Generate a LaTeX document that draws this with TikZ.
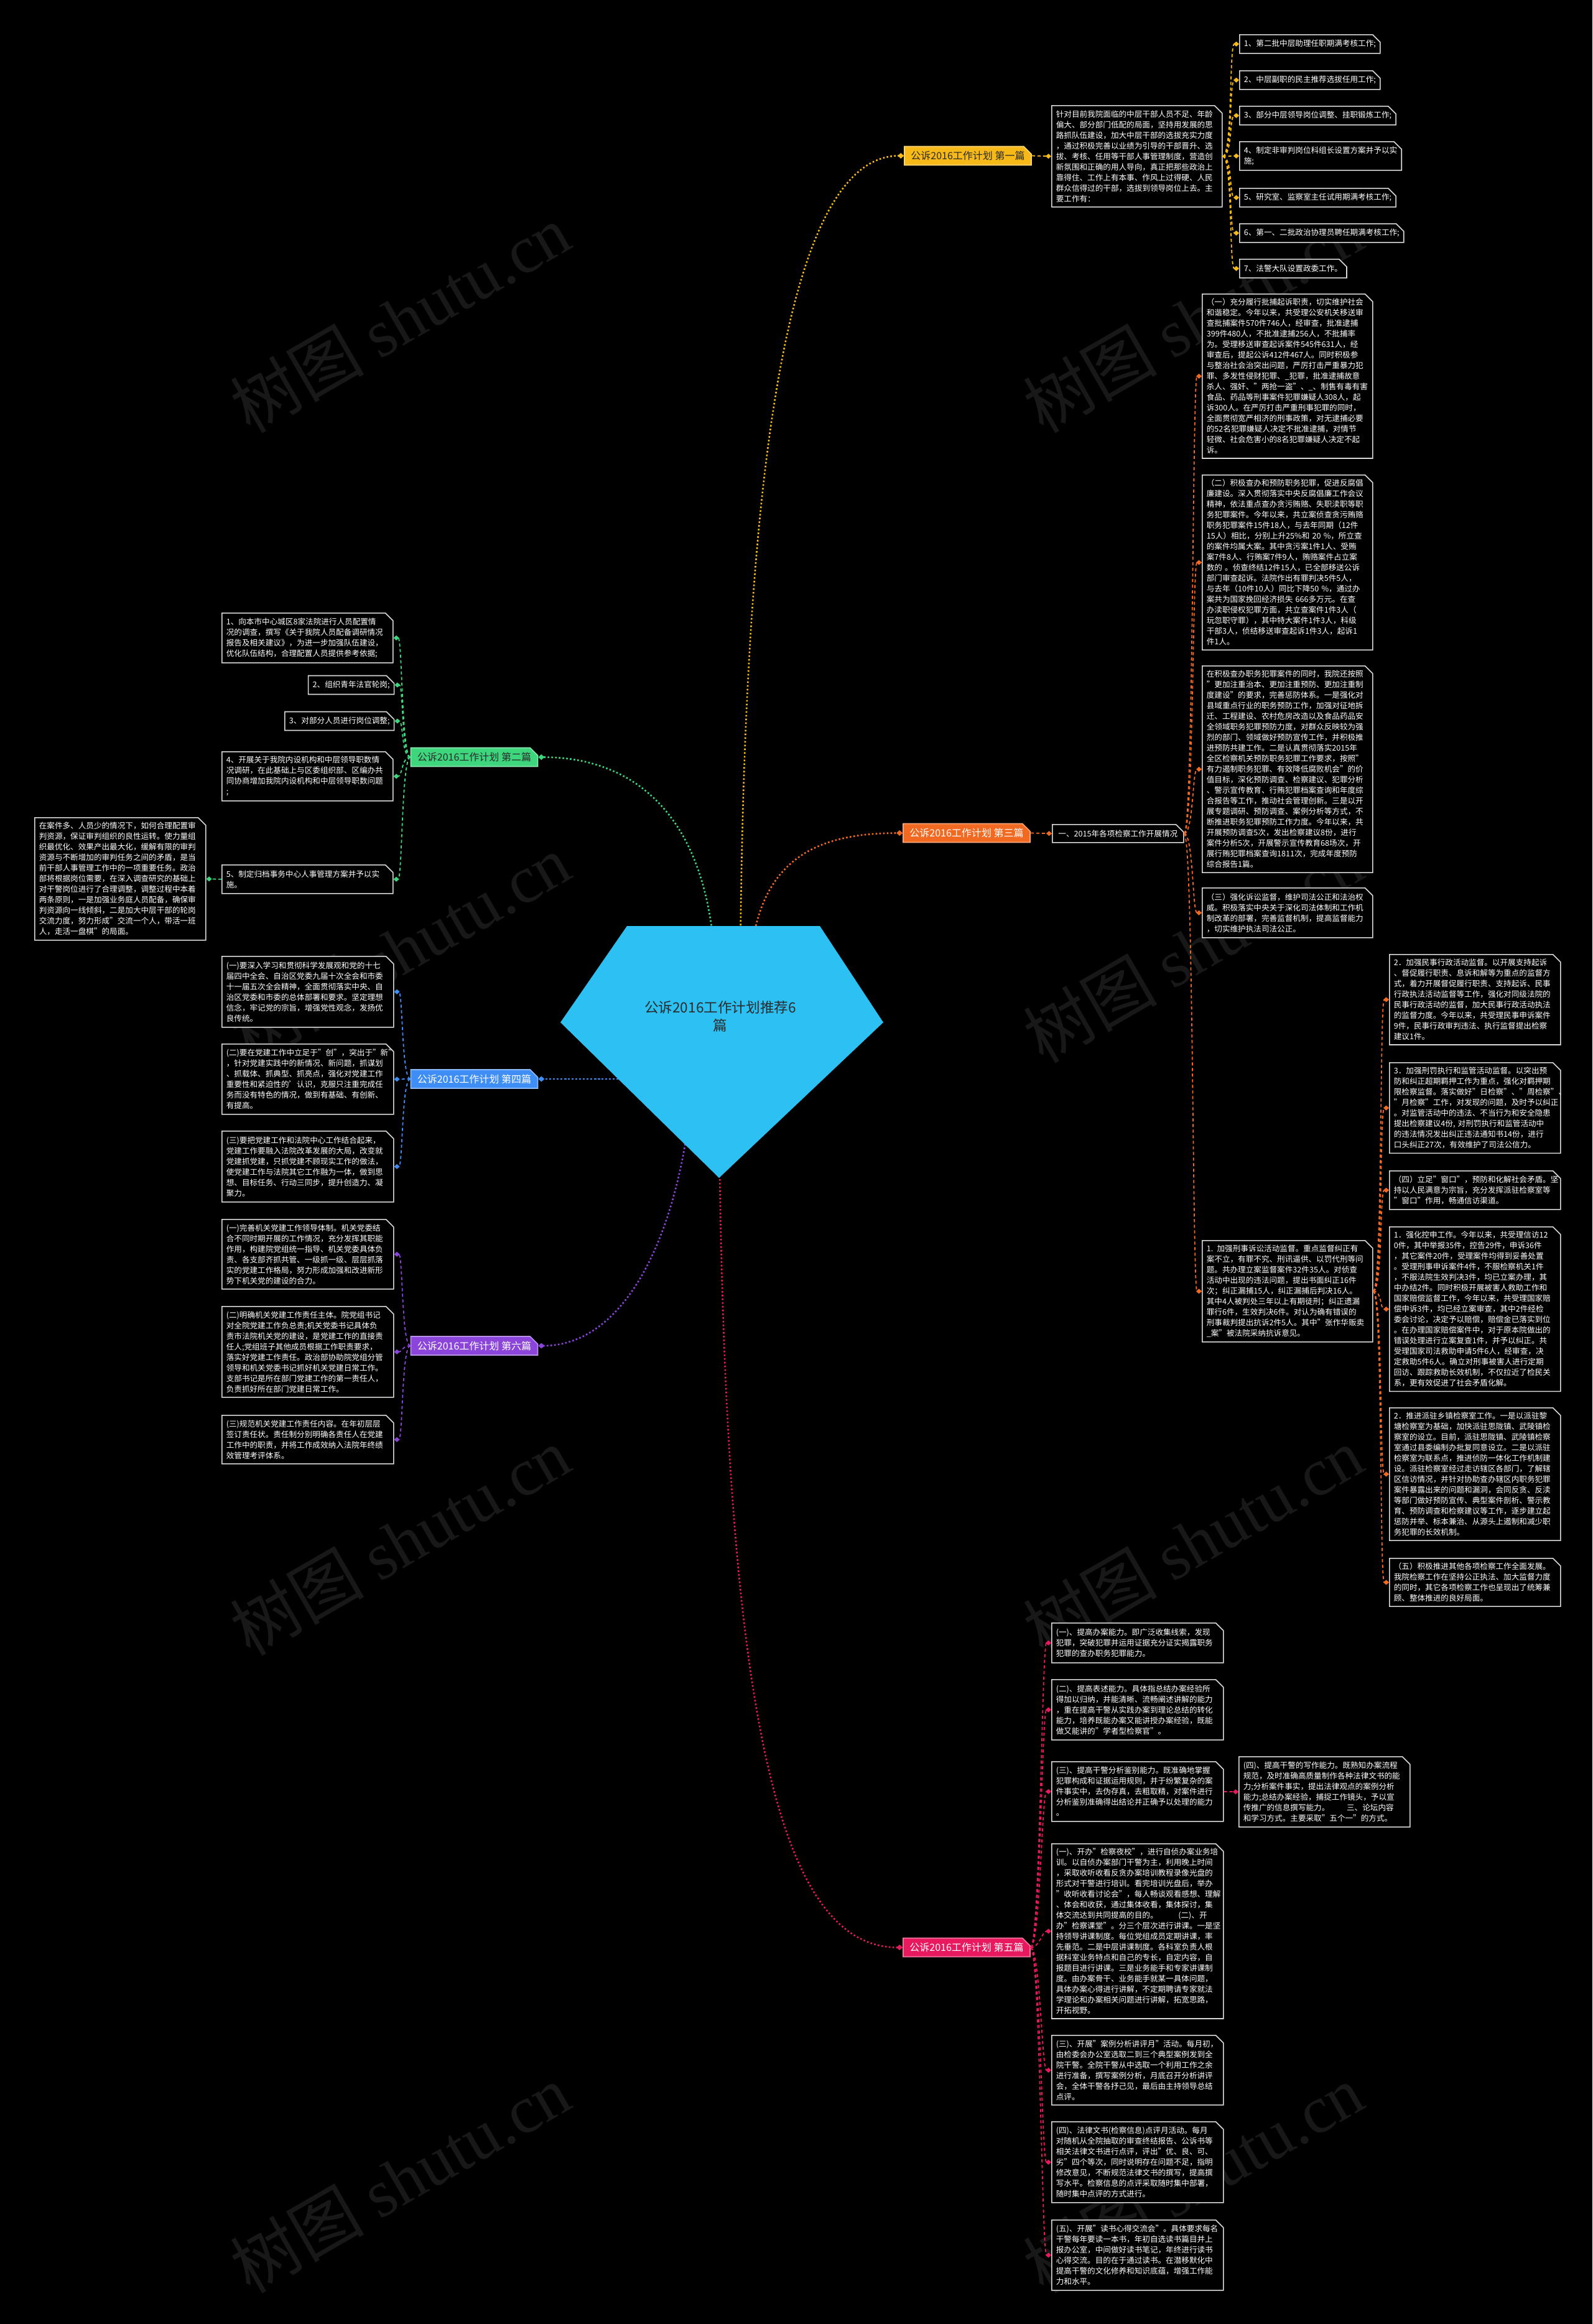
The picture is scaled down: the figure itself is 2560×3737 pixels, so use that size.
\documentclass[tikz,border=0pt]{standalone}
\usepackage{fontspec}
\setmainfont{Noto Sans CJK SC}
\newfontfamily\wmlatin{Liberation Serif}
\usetikzlibrary{shapes.misc,arrows.meta}
\definecolor{cyel}{HTML}{F7B918}
\definecolor{cgrn}{HTML}{3DD67C}
\definecolor{cora}{HTML}{F26A22}
\definecolor{cblu}{HTML}{3F8EF5}
\definecolor{cpnk}{HTML}{E9195F}
\definecolor{cpur}{HTML}{8B45DA}
\definecolor{ccen}{HTML}{2CC0F3}
\definecolor{boxline}{HTML}{D9D9D9}
\definecolor{wmark}{HTML}{181818}
\definecolor{darktxt}{HTML}{2B2B2B}
\newcommand\bxf{\fontsize{6.3pt}{8.5pt}\selectfont}
\newcommand\brf{\fontsize{8pt}{10pt}\selectfont}
\newcommand\wmtext{树图 {\wmlatin shutu.cn}}
\begin{document}
\begin{tikzpicture}[x=0.5pt,y=-0.5pt,
  box/.style={chamfered rectangle, chamfered rectangle corners=north east,
    chamfered rectangle xsep=2.5pt, draw=boxline, line width=0.8pt, fill=black,
    text=white, font=\bxf, align=left, inner xsep=1pt, inner ysep=0pt, anchor=north west},
  branch/.style={chamfered rectangle, chamfered rectangle corners=north east,
    chamfered rectangle xsep=2.5pt, fill=#1, draw=#1!60!white, line width=0.8pt,
    font=\brf, minimum width=102pt, minimum height=15pt, inner xsep=2pt, inner ysep=0pt, text=white},
  mainc/.style={draw=#1, line width=1.3pt, dash pattern=on 1.3pt off 1.7pt, -{Diamond[length=5pt,width=4.5pt]}},
  subc/.style={draw=#1, line width=0.9pt, dash pattern=on 2.5pt off 2pt, -{Diamond[length=4.5pt,width=4pt]}},
  wm/.style={text=wmark, font=\fontsize{54pt}{60pt}\selectfont, rotate=30}
]
% background
\fill[black] (0,0) rectangle (2560,3737);
\useasboundingbox (0,0) rectangle (2560,3737);
% watermarks
\node[wm] (w1) at (643,512) {\wmtext};
\node[wm] (w2) at (1918,512) {\wmtext};
\node[wm] (w3) at (643,1525) {\wmtext};
\node[wm] (w4) at (1918,1525) {\wmtext};
\node[wm] (w5) at (643,2478) {\wmtext};
\node[wm] (w6) at (1918,2478) {\wmtext};
\node[wm] (w7) at (643,3503) {\wmtext};
\node[wm] (w8) at (1918,3503) {\wmtext};

% branch nodes
\node[branch=cyel, text=darktxt] (b1) at (1556,250.5) {公诉2016工作计划 第一篇};
\node[branch=cgrn, text=darktxt] (b2) at (762.5,1217.5) {公诉2016工作计划 第二篇};
\node[branch=cora] (b3) at (1554,1339.5) {公诉2016工作计划 第三篇};
\node[branch=cblu] (b4) at (762.5,1735) {公诉2016工作计划 第四篇};
\node[branch=cpnk] (b5) at (1554,3131.5) {公诉2016工作计划 第五篇};
\node[branch=cpur] (b6) at (762.5,2164) {公诉2016工作计划 第六篇};

% main connectors (start hidden under the centre shape)
\coordinate (s1) at (1190,1560);
\coordinate (s2) at (1150,1560);
\coordinate (s3) at (1205,1560);
\coordinate (s4) at (1060,1735);
\coordinate (s5) at (1156,1800);
\coordinate (s6) at (1110,1780);
\draw[mainc=cyel] (s1) .. controls (1195,850) and (1250,250.5) .. (b1.west);
\draw[mainc=cgrn] (s2) .. controls (1140,1300) and (1010,1217.5) .. (b2.east);
\draw[mainc=cora] (s3) .. controls (1215,1390) and (1300,1339.5) .. (b3.west);
\draw[mainc=cblu] (s4) .. controls (980,1735) and (930,1735) .. (b4.east);
\draw[mainc=cpnk] (s5) .. controls (1165,2750) and (1250,3131.5) .. (b5.west);
\draw[mainc=cpur] (s6) .. controls (1085,2000) and (1000,2164) .. (b6.east);

% centre
\coordinate (p1) at (1008,1489);
\coordinate (p2) at (1318,1489);
\coordinate (p3) at (1420,1644);
\coordinate (p4) at (1156,1894);
\coordinate (p5) at (901,1644);
\fill[ccen] (p1) -- (p2) -- (p3) -- (p4) -- (p5) -- cycle;
\node[text=darktxt, font=\fontsize{11.3pt}{14.5pt}\selectfont, align=center] (c) at (1158,1634) {公诉2016工作计划推荐6\\篇};

% ===== branch 1 =====
\node[box, minimum width=135.5pt, minimum height=81.5pt, text width=130pt] (b1d) at (1690,169) {针对目前我院面临的中层干部人员不足、年龄\\偏大、部分部门低配的局面，坚持用发展的思\\路抓队伍建设，加大中层干部的选拔充实力度\\，通过积极完善以业绩为引导的干部晋升、选\\拔、考核、任用等干部人事管理制度，营造创\\新氛围和正确的用人导向，真正把那些政治上\\靠得住、工作上有本事、作风上过得硬、人民\\群众信得过的干部，选拔到领导岗位上去。主\\要工作有：};
\node[box, minimum height=15pt] (b1i1) at (1992,55) {1、第二批中层助理任职期满考核工作;};
\node[box, minimum height=15pt] (b1i2) at (1992,113) {2、中层副职的民主推荐选拔任用工作;};
\node[box, minimum height=15pt] (b1i3) at (1992,170) {3、部分中层领导岗位调整、挂职锻炼工作;};
\node[box, minimum height=23pt] (b1i4) at (1992,227) {4、制定非审判岗位科组长设置方案并予以实\\施;};
\node[box, minimum height=15pt] (b1i5) at (1992,302) {5、研究室、监察室主任试用期满考核工作;};
\node[box, minimum height=15pt] (b1i6) at (1992,359) {6、第一、二批政治协理员聘任期满考核工作;};
\node[box, minimum height=15pt] (b1i7) at (1992,416) {7、法警大队设置政委工作。};
\draw[subc=cyel] (b1.east) -- (b1d.west);
\foreach \n in {b1i1,b1i2,b1i3,b1i4,b1i5,b1i6,b1i7}
  \draw[subc=cyel] (b1d.east) .. controls +(16,0) and +(-16,0) .. (\n.west);

% ===== branch 2 =====
\node[box, minimum width=136pt, minimum height=40pt, text width=130.5pt] (b2i1) at (356,985) {1、向本市中心城区8家法院进行人员配置情\\况的调查，撰写《关于我院人员配备调研情况\\报告及相关建议》，为进一步加强队伍建设，\\优化队伍结构，合理配置人员提供参考依据;};
\node[box, anchor=north east, minimum height=15pt] (b2i2) at (628,1092) {2、组织青年法官轮岗;};
\node[box, anchor=north east, minimum height=15pt] (b2i3) at (628,1150) {3、对部分人员进行岗位调整;};
\node[box, minimum width=136pt, minimum height=39.5pt, text width=130.5pt] (b2i4) at (356,1208) {4、开展关于我院内设机构和中层领导职数情\\况调研，在此基础上与区委组织部、区编办共\\同协商增加我院内设机构和中层领导职数问题\\;};
\node[box, minimum width=136pt, minimum height=23pt, text width=130.5pt] (b2i5) at (356,1390) {5、制定归档事务中心人事管理方案并予以实\\施。};
\node[box, minimum width=136pt, minimum height=98.5pt, text width=130.5pt] (b2c) at (55,1314) {在案件多、人员少的情况下，如何合理配置审\\判资源，保证审判组织的良性运转。使力量组\\织最优化、效果产出最大化，缓解有限的审判\\资源与不断增加的审判任务之间的矛盾，是当\\前干部人事管理工作中的一项重要任务。政治\\部将根据岗位需要，在深入调查研究的基础上\\对干警岗位进行了合理调整，调整过程中本着\\两条原则，一是加强业务庭人员配备，确保审\\判资源向一线倾斜，二是加大中层干部的轮岗\\交流力度，努力形成"交流一个人，带活一班\\人，走活一盘棋"的局面。};
\foreach \n in {b2i1,b2i2,b2i3,b2i4,b2i5}
  \draw[subc=cgrn] (b2.west) .. controls +(-14,0) and +(14,0) .. (\n.east);
\draw[subc=cgrn] (b2i5.west) -- (b2c.east);

% ===== branch 3 =====
\node[box, minimum width=105.5pt, minimum height=14.5pt] (b3h) at (1691,1325) {一、2015年各项检察工作开展情况};
\draw[subc=cora] (b3.east) -- (b3h.west);
\node[box, minimum width=135.5pt, minimum height=131.5pt, text width=130pt] (b3a) at (1932,472) {（一）充分履行批捕起诉职责，切实维护社会\\和谐稳定。今年以来，共受理公安机关移送审\\查批捕案件570件746人，经审查，批准逮捕\\399件480人，不批准逮捕256人，不批捕率\\为。受理移送审查起诉案件545件631人，经\\审查后，提起公诉412件467人。同时积极参\\与整治社会治突出问题，严厉打击严重暴力犯\\罪、多发性侵财犯罪、\_犯罪，批准逮捕故意\\杀人、强奸、"两抢一盗"、\_、制售有毒有害\\食品、药品等刑事案件犯罪嫌疑人308人，起\\诉300人。在严厉打击严重刑事犯罪的同时，\\全面贯彻宽严相济的刑事政策，对无逮捕必要\\的52名犯罪嫌疑人决定不批准逮捕，对情节\\轻微、社会危害小的8名犯罪嫌疑人决定不起\\诉。};
\node[box, minimum width=135.5pt, minimum height=139.5pt, text width=130pt] (b3b) at (1932,763) {（二）积极查办和预防职务犯罪，促进反腐倡\\廉建设。深入贯彻落实中央反腐倡廉工作会议\\精神，依法重点查办贪污贿赂、失职渎职等职\\务犯罪案件。今年以来，共立案侦查贪污贿赂\\职务犯罪案件15件18人，与去年同期（12件\\15人）相比，分别上升25\%和 20 \%，所立查\\的案件均属大案。其中贪污案1件1人、受贿\\案7件8人、行贿案7件9人，贿赂案件占立案\\数的 。侦查终结12件15人，已全部移送公诉\\部门审查起诉。法院作出有罪判决5件5人，\\与去年（10件10人）同比下降50 \%，通过办\\案共为国家挽回经济损失 666多万元。在查\\办渎职侵权犯罪方面，共立查案件1件3人（\\玩忽职守罪），其中特大案件1件3人，科级\\干部3人，侦结移送审查起诉1件3人，起诉1\\件1人。};
\node[box, minimum width=135.5pt, minimum height=164.5pt, text width=130pt] (b3c) at (1932,1070) {在积极查办职务犯罪案件的同时，我院还按照\\"更加注重治本、更加注重预防、更加注重制\\度建设"的要求，完善惩防体系。一是强化对\\县域重点行业的职务预防工作，加强对征地拆\\迁、工程建设、农村危房改造以及食品药品安\\全领域职务犯罪预防力度，对群众反映较为强\\烈的部门、领域做好预防宣传工作，并积极推\\进预防共建工作。二是认真贯彻落实2015年\\全区检察机关预防职务犯罪工作要求，按照"\\有力遏制职务犯罪、有效降低腐败机会"的价\\值目标，深化预防调查、检察建议、犯罪分析\\、警示宣传教育、行贿犯罪档案查询和年度综\\合报告等工作，推动社会管理创新。三是以开\\展专题调研、预防调查、案例分析等方式，不\\断推进职务犯罪预防工作力度。今年以来，共\\开展预防调查5次，发出检察建议8份，进行\\案件分析5次，开展警示宣传教育68场次，开\\展行贿犯罪档案查询1811次，完成年度预防\\综合报告1篇。};
\node[box, minimum width=135.5pt, minimum height=40pt, text width=130pt] (b3d) at (1932,1427) {（三）强化诉讼监督，维护司法公正和法治权\\威。积极落实中央关于深化司法体制和工作机\\制改革的部署，完善监督机制，提高监督能力\\，切实维护执法司法公正。};
\node[box, minimum width=135.5pt, minimum height=81.5pt, text width=130pt] (b3e) at (1932,1994) {1. 加强刑事诉讼活动监督。重点监督纠正有\\案不立，有罪不究、刑讯逼供、以罚代刑等问\\题。共办理立案监督案件32件35人。对侦查\\活动中出现的违法问题，提出书面纠正16件\\次；纠正漏捕15人，纠正漏捕后判决16人。\\其中4人被判处三年以上有期徒刑；纠正遗漏\\罪行6件，生效判决6件。对认为确有错误的\\刑事裁判提出抗诉2件5人。其中"张作华贩卖\\\_案"被法院采纳抗诉意见。};
\foreach \n in {b3a,b3b,b3c,b3d,b3e}
  \draw[subc=cora] (b3h.east) .. controls +(15,0) and +(-15,0) .. (\n.west);
\node[box, minimum width=136pt, minimum height=72.5pt, text width=130.5pt] (b3f) at (2233,1534) {2．加强民事行政活动监督。以开展支持起诉\\、督促履行职责、息诉和解等为重点的监督方\\式，着力开展督促履行职责、支持起诉、民事\\行政执法活动监督等工作，强化对同级法院的\\民事行政活动的监督，加大民事行政活动执法\\的监督力度。今年以来，共受理民事申诉案件\\9件，民事行政审判违法、执行监督提出检察\\建议1件。};
\node[box, minimum width=136pt, minimum height=72.5pt, text width=130.5pt] (b3g) at (2233,1708) {3．加强刑罚执行和监管活动监督。以突出预\\防和纠正超期羁押工作为重点，强化对羁押期\\限检察监督。落实做好"日检察"、"周检察"、\\"月检察"工作，对发现的问题，及时予以纠正\\。对监管活动中的违法、不当行为和安全隐患\\提出检察建议4份, 对刑罚执行和监管活动中\\的违法情况发出纠正违法通知书14份，进行\\口头纠正27次，有效维护了司法公信力。};
\node[box, minimum width=136pt, minimum height=31pt, text width=130.5pt] (b3k) at (2233,1882) {（四）立足"窗口"，预防和化解社会矛盾。坚\\持以人民满意为宗旨，充分发挥派驻检察室等\\"窗口"作用，畅通信访渠道。};
\node[box, minimum width=136pt, minimum height=131.5pt, text width=130.5pt] (b3l) at (2233,1972) {1．强化控申工作。今年以来，共受理信访12\\0件，其中举报35件，控告29件，申诉36件\\，其它案件20件，受理案件均得到妥善处置\\。受理刑事申诉案件4件，不服检察机关1件\\，不服法院生效判决3件，均已立案办理，其\\中办结2件。同时积极开展被害人救助工作和\\国家赔偿监督工作，今年以来，共受理国家赔\\偿申诉3件，均已经立案审查，其中2件经检\\委会讨论，决定予以赔偿，赔偿金已落实到位\\。在办理国家赔偿案件中，对于原本院做出的\\错误处理进行立案复查1件，并予以纠正。共\\受理国家司法救助申请5件6人，经审查，决\\定救助5件6人。确立对刑事被害人进行定期\\回访、跟踪救助长效机制，不仅拉近了检民关\\系，更有效促进了社会矛盾化解。};
\node[box, minimum width=136pt, minimum height=105.5pt, text width=130.5pt] (b3m) at (2233,2263) {2．推进派驻乡镇检察室工作。一是以派驻黎\\塘检察室为基础，加快派驻思陇镇、武陵镇检\\察室的设立。目前，派驻思陇镇、武陵镇检察\\室通过县委编制办批复同意设立。二是以派驻\\检察室为联系点，推进侦防一体化工作机制建\\设。派驻检察室经过走访辖区各部门，了解辖\\区信访情况，并针对协助查办辖区内职务犯罪\\案件暴露出来的问题和漏洞，会同反贪、反渎\\等部门做好预防宣传、典型案件剖析、警示教\\育、预防调查和检察建议等工作，逐步建立起\\惩防并举、标本兼治、从源头上遏制和减少职\\务犯罪的长效机制。};
\node[box, minimum width=136pt, minimum height=38pt, text width=130.5pt] (b3n) at (2233,2505) {（五）积极推进其他各项检察工作全面发展。\\我院检察工作在坚持公正执法、加大监督力度\\的同时，其它各项检察工作也呈现出了统筹兼\\顾、整体推进的良好局面。};
\foreach \n in {b3f,b3g,b3k,b3l,b3m,b3n}
  \draw[subc=cora] (b3e.east) .. controls +(15,0) and +(-15,0) .. (\n.west);

% ===== branch 4 =====
\node[box, minimum width=136.5pt, minimum height=57pt, text width=131pt] (b4a) at (356,1537) {(一)要深入学习和贯彻科学发展观和党的十七\\届四中全会、自治区党委九届十次全会和市委\\十一届五次全会精神，全面贯彻落实中央、自\\治区党委和市委的总体部署和要求。坚定理想\\信念，牢记党的宗旨，增强党性观念，发扬优\\良传统。};
\node[box, minimum width=136.5pt, minimum height=56.5pt, text width=131pt] (b4b) at (356,1678) {(二)要在党建工作中立足于"创"，突出于"新"\\，针对党建实践中的新情况、新问题，抓谋划\\、抓载体、抓典型、抓亮点，强化对党建工作\\重要性和紧迫性的'认识，克服只注重完成任\\务而没有特色的情况，做到有基础、有创新、\\有提高。};
\node[box, minimum width=136.5pt, minimum height=57pt, text width=131pt] (b4c) at (356,1818) {(三)要把党建工作和法院中心工作结合起来，\\党建工作要融入法院改革发展的大局，改变就\\党建抓党建，只抓党建不顾现实工作的做法，\\使党建工作与法院其它工作融为一体，做到思\\想、目标任务、行动三同步，提升创造力、凝\\聚力。};
\foreach \n in {b4a,b4b,b4c}
  \draw[subc=cblu] (b4.west) .. controls +(-14,0) and +(14,0) .. (\n.east);

% ===== branch 6 =====
\node[box, minimum width=136.5pt, minimum height=56pt, text width=131pt] (b6a) at (356,1960) {(一)完善机关党建工作领导体制。机关党委结\\合不同时期开展的工作情况，充分发挥其职能\\作用，构建院党组统一指导、机关党委具体负\\责、各支部齐抓共管、一级抓一级、层层抓落\\实的党建工作格局，努力形成加强和改进新形\\势下机关党的建设的合力。};
\node[box, minimum width=136.5pt, minimum height=73pt, text width=131pt] (b6b) at (356,2100) {(二)明确机关党建工作责任主体。院党组书记\\对全院党建工作负总责;机关党委书记具体负\\责市法院机关党的建设，是党建工作的直接责\\任人;党组班子其他成员根据工作职责要求，\\落实好党建工作责任。政治部协助院党组分管\\领导和机关党委书记抓好机关党建日常工作。\\支部书记是所在部门党建工作的第一责任人，\\负责抓好所在部门党建日常工作。};
\node[box, minimum width=136.5pt, minimum height=39pt, text width=131pt] (b6c) at (356,2275) {(三)规范机关党建工作责任内容。在年初层层\\签订责任状。责任制分别明确各责任人在党建\\工作中的职责，并将工作成效纳入法院年终绩\\效管理考评体系。};
\foreach \n in {b6a,b6b,b6c}
  \draw[subc=cpur] (b6.west) .. controls +(-14,0) and +(14,0) .. (\n.east);

% ===== branch 5 =====
\node[box, minimum width=136.5pt, minimum height=32pt, text width=131pt] (b5a) at (1690,2609) {(一)、提高办案能力。即广泛收集线索，发现\\犯罪，突破犯罪并运用证据充分证实揭露职务\\犯罪的查办职务犯罪能力。};
\node[box, minimum width=136.5pt, minimum height=48.5pt, text width=131pt] (b5b) at (1690,2700) {(二)、提高表述能力。具体指总结办案经验所\\得加以归纳，并能清晰、流畅阐述讲解的能力\\，重在提高干警从实践办案到理论总结的转化\\能力，培养既能办案又能讲授办案经验，既能\\做又能讲的"学者型检察官"。};
\node[box, minimum width=136.5pt, minimum height=48pt, text width=131pt] (b5c) at (1690,2832) {(三)、提高干警分析鉴别能力。既准确地掌握\\犯罪构成和证据运用规则，并于纷繁复杂的案\\件事实中，去伪存真，去粗取精，对案件进行\\分析鉴别准确得出结论并正确予以处理的能力\\。};
\node[box, minimum width=136pt, minimum height=56.5pt, text width=130.5pt] (b5d) at (1991,2824) {(四)、提高干警的写作能力。既熟知办案流程\\规范，及时准确高质量制作各种法律文书的能\\力;分析案件事实，提出法律观点的案例分析\\能力;总结办案经验，捕捉工作镜头，予以宣\\传推广的信息撰写能力。\hspace{2.2em}三、论坛内容\\和学习方式。主要采取"五个一"的方式。};
\node[box, minimum width=136.5pt, minimum height=140pt, text width=131pt] (b5e) at (1690,2964) {(一)、开办"检察夜校"，进行自侦办案业务培\\训。以自侦办案部门干警为主，利用晚上时间\\，采取收听收看反贪办案培训教程录像光盘的\\形式对干警进行培训。看完培训光盘后，举办\\"收听收看讨论会"，每人畅谈观看感想、理解\\、体会和收获，通过集体收看，集体探讨，集\\体交流达到共同提高的目的。\hspace{2.6em}(二)、开\\办"检察课堂"。分三个层次进行讲课。一是坚\\持领导讲课制度。每位党组成员定期讲课，率\\先垂范。二是中层讲课制度。各科室负责人根\\据科室业务特点和自己的专长，自定内容，自\\报题目进行讲课。三是业务能手和专家讲课制\\度。由办案骨干、业务能手就某一具体问题，\\具体办案心得进行讲解，不定期聘请专家就法\\学理论和办案相关问题进行讲解，拓宽思路，\\开拓视野。};
\node[box, minimum width=136.5pt, minimum height=56pt, text width=131pt] (b5f) at (1690,3272) {(三)、开展"案例分析讲评月"活动。每月初，\\由检委会办公室选取二到三个典型案例发到全\\院干警。全院干警从中选取一个利用工作之余\\进行准备，撰写案例分析，月底召开分析讲评\\会，全体干警各抒己见，最后由主持领导总结\\点评。};
\node[box, minimum width=136.5pt, minimum height=65pt, text width=131pt] (b5g) at (1690,3411) {(四)、法律文书(检察信息)点评月活动。每月\\对随机从全院抽取的审查终结报告、公诉书等\\相关法律文书进行点评，评出"优、良、可、\\劣"四个等次，同时说明存在问题不足，指明\\修改意见，不断规范法律文书的撰写，提高撰\\写水平。检察信息的点评采取随时集中部署，\\随时集中点评的方式进行。};
\node[box, minimum width=136.5pt, minimum height=56.5pt, text width=131pt] (b5h) at (1690,3569) {(五)、开展"读书心得交流会"。具体要求每名\\干警每年要读一本书，年初自选读书篇目并上\\报办公室，中间做好读书笔记，年终进行读书\\心得交流。目的在于通过读书。在潜移默化中\\提高干警的文化修养和知识底蕴，增强工作能\\力和水平。};
\foreach \n in {b5a,b5b,b5c,b5e,b5f,b5g,b5h}
  \draw[subc=cpnk] (b5.east) .. controls +(15,0) and +(-15,0) .. (\n.west);
\draw[subc=cpnk] (b5c.east) -- (b5d.west);
\end{tikzpicture}
\end{document}
